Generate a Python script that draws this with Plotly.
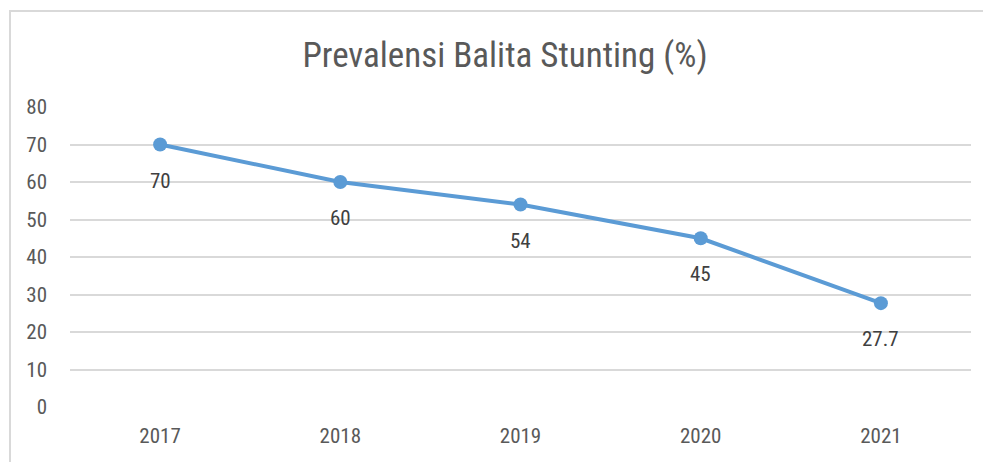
import plotly.graph_objects as go

years = ["2017", "2018", "2019", "2020", "2021"]
values = [70, 60, 54, 45, 27.7]
labels = ["70", "60", "54", "45", "27.7"]
y_ticks = [0, 10, 20, 30, 40, 50, 60, 70, 80]

FONT = "Roboto Condensed, Liberation Sans Narrow, Arial Narrow, sans-serif"

fig = go.Figure()
fig.add_trace(go.Scatter(
    x=years, y=values, mode="lines+markers",
    line=dict(color="#5b9bd5", width=4),
    marker=dict(color="#5b9bd5", size=14),
    hoverinfo="skip", showlegend=False,
))

for i, (yv, t) in enumerate(zip(values, labels)):
    fig.add_annotation(x=i, y=yv, xref="x", yref="y", text=t, showarrow=False,
                       yshift=-36,
                       font=dict(family=FONT, size=21, color="#404040"))

# page body has an 8px margin; compensate so marks land on page pixels
OFF = 8
W, H = 991, 462
L, R, T, B = 62, 28, 99, 63
pw, ph = W - L - R, H - T - B

def px(xp):
    return (xp - OFF - L) / pw

def py(yp):
    return (H - B - (yp - OFF)) / ph

fig.add_shape(type="rect", xref="paper", yref="paper",
              x0=px(10), x1=px(1005), y0=py(490), y1=py(11),
              line=dict(color="#d9d9d9", width=2), layer="below")

fig.update_layout(
    width=W, height=H,
    margin=dict(l=L, r=R, t=T, b=B),
    paper_bgcolor="white", plot_bgcolor="white",
    title=dict(text="Prevalensi Balita Stunting (%)", x=px(505), xanchor="center",
               xref="paper",
               y=1 - (55 - OFF) / H, yanchor="middle",
               font=dict(family=FONT, size=35, color="#595959")),
    xaxis=dict(type="category", range=[-0.5, 4.5], showgrid=False, showline=False,
               zeroline=False, ticks="", ticklabelstandoff=14,
               tickfont=dict(family=FONT, size=21, color="#595959")),
    yaxis=dict(range=[0, 80], tickvals=y_ticks, showgrid=True, gridcolor="#d9d9d9",
               gridwidth=2, zeroline=False, showline=False, ticks="",
               ticklabelstandoff=22,
               tickfont=dict(family=FONT, size=21, color="#595959")),
)

fig.write_html("out.html")
